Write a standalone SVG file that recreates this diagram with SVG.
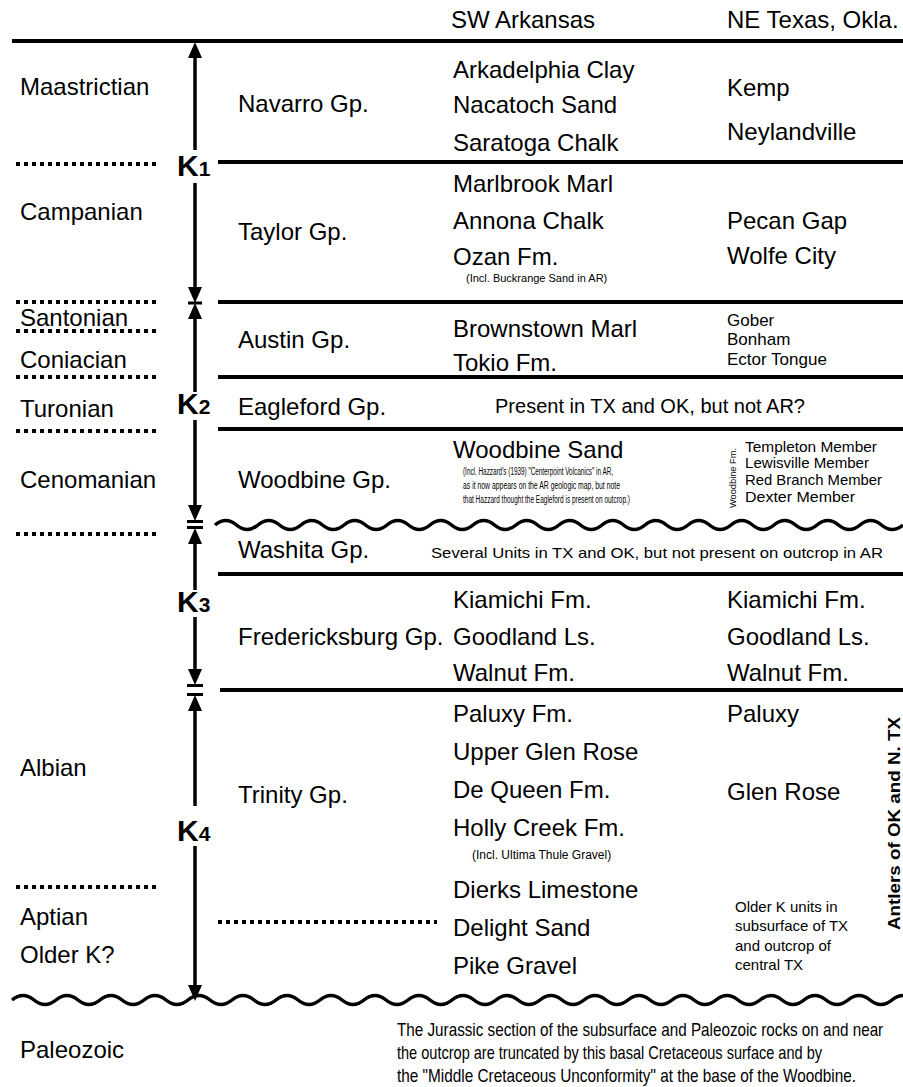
<svg xmlns="http://www.w3.org/2000/svg" width="903" height="1087" viewBox="0 0 903 1087">
<style>
text{font-family:"Liberation Sans",Arial,sans-serif;fill:#000}
.t{font-size:24px}
.m{font-size:17px}
.mem{font-size:15px}
.sm{font-size:11px}
.k{font-size:30px;font-weight:bold}
.ks{font-size:21px;font-weight:bold}
.ln{stroke:#000;stroke-width:4;fill:none}
.dot{stroke:#000;stroke-width:4;stroke-dasharray:4 4;fill:none}
.wave{stroke:#000;stroke-width:3.5;fill:none}
.ax{stroke:#000;stroke-width:3.5;fill:none}
.bar{stroke:#000;stroke-width:3}
.note{font-size:18px}
</style>
<defs>
<path id="up" d="M0,0 L-7,16 L7,16 Z" fill="#000"/>
<path id="dn" d="M0,0 L-7,-16 L7,-16 Z" fill="#000"/>
</defs>
<rect width="903" height="1087" fill="#fff"/>

<g id="headers">
<text class="t" x="451" y="28">SW Arkansas</text>
<text class="t" x="727" y="28">NE Texas, Okla.</text>
</g>

<g id="connectors">
<line class="ln" x1="12" y1="41" x2="903" y2="41"/>
<line class="ln" x1="218" y1="162" x2="903" y2="162"/>
<line class="ln" x1="218" y1="302" x2="903" y2="302"/>
<line class="ln" x1="218" y1="377" x2="903" y2="377"/>
<line class="ln" x1="218" y1="429" x2="903" y2="429"/>
<line class="ln" x1="218" y1="574" x2="903" y2="574"/>
<line class="ln" x1="220" y1="690" x2="903" y2="690"/>
<path class="wave" d="M215,525 q10.75,-9 21.5,0 t21.5,0 t21.5,0 t21.5,0 t21.5,0 t21.5,0 t21.5,0 t21.5,0 t21.5,0 t21.5,0 t21.5,0 t21.5,0 t21.5,0 t21.5,0 t21.5,0 t21.5,0 t21.5,0 t21.5,0 t21.5,0 t21.5,0 t21.5,0 t21.5,0 t21.5,0 t21.5,0 t21.5,0 t21.5,0 t21.5,0 t21.5,0 t21.5,0 t21.5,0 t21.5,0 t21.5,0"/>
<path class="wave" d="M12,1000 q11,-9 22,0 t22,0 t22,0 t22,0 t22,0 t22,0 t22,0 t22,0 t22,0 t22,0 t22,0 t22,0 t22,0 t22,0 t22,0 t22,0 t22,0 t22,0 t22,0 t22,0 t22,0 t22,0 t22,0 t22,0 t22,0 t22,0 t22,0 t22,0 t22,0 t22,0 t22,0 t22,0 t22,0 t22,0 t22,0 t22,0 t22,0 t22,0 t22,0 t22,0 t22,0"/>
<line class="dot" x1="16" y1="164" x2="160" y2="164"/>
<line class="dot" x1="16" y1="302" x2="160" y2="302"/>
<line class="dot" x1="16" y1="331" x2="160" y2="331"/>
<line class="dot" x1="16" y1="377" x2="160" y2="377"/>
<line class="dot" x1="16" y1="431" x2="160" y2="431"/>
<line class="dot" x1="16" y1="534" x2="160" y2="534"/>
<line class="dot" x1="16" y1="887" x2="160" y2="887"/>
<line class="dot" x1="218" y1="922" x2="437" y2="922"/>
<line class="ax" x1="195" y1="50" x2="195" y2="150"/>
<use href="#up" x="195" y="42"/>
<line class="ax" x1="195" y1="183" x2="195" y2="292"/>
<use href="#dn" x="195" y="303"/>
<line class="bar" x1="188" y1="303" x2="202" y2="303"/>
<use href="#up" x="195" y="303"/>
<line class="ax" x1="195" y1="315" x2="195" y2="392"/>
<line class="ax" x1="195" y1="420" x2="195" y2="512"/>
<use href="#dn" x="195" y="521"/>
<line class="bar" x1="187" y1="521.5" x2="203" y2="521.5"/>
<line class="bar" x1="187" y1="527.5" x2="203" y2="527.5"/>
<use href="#up" x="195" y="528"/>
<line class="ax" x1="195" y1="540" x2="195" y2="590"/>
<line class="ax" x1="195" y1="617" x2="195" y2="676"/>
<use href="#dn" x="195" y="685"/>
<line class="bar" x1="187" y1="685.5" x2="203" y2="685.5"/>
<line class="bar" x1="187" y1="694.5" x2="203" y2="694.5"/>
<use href="#up" x="195" y="695"/>
<line class="ax" x1="195" y1="708" x2="195" y2="806"/>
<line class="ax" x1="195" y1="846" x2="195" y2="990"/>
<use href="#dn" x="195" y="1001"/>
</g>

<g id="k-labels">
<text x="177" y="176"><tspan class="k">K</tspan><tspan class="ks">1</tspan></text>
<text x="177" y="414"><tspan class="k">K</tspan><tspan class="ks">2</tspan></text>
<text x="177" y="612"><tspan class="k">K</tspan><tspan class="ks">3</tspan></text>
<text x="177" y="841"><tspan class="k">K</tspan><tspan class="ks">4</tspan></text>
</g>

<g id="stages">
<text class="t" x="20" y="95">Maastrictian</text>
<text class="t" x="20" y="220">Campanian</text>
<text class="t" x="20" y="326">Santonian</text>
<text class="t" x="20" y="368">Coniacian</text>
<text class="t" x="20" y="417">Turonian</text>
<text class="t" x="20" y="488">Cenomanian</text>
<text class="t" x="20" y="776">Albian</text>
<text class="t" x="20" y="925">Aptian</text>
<text class="t" x="20" y="963">Older K?</text>
<text class="t" x="20" y="1058">Paleozoic</text>
</g>

<g id="navarro">
<text class="t" x="238" y="112">Navarro Gp.</text>
<text class="t" x="453" y="78">Arkadelphia Clay</text>
<text class="t" x="453" y="113">Nacatoch Sand</text>
<text class="t" x="453" y="151">Saratoga Chalk</text>
<text class="t" x="727" y="96">Kemp</text>
<text class="t" x="727" y="140">Neylandville</text>
</g>

<g id="taylor">
<text class="t" x="238" y="240">Taylor Gp.</text>
<text class="t" x="453" y="192">Marlbrook Marl</text>
<text class="t" x="453" y="229">Annona Chalk</text>
<text class="t" x="453" y="265">Ozan Fm.</text>
<text class="sm" x="466" y="282">(Incl. Buckrange Sand  in AR)</text>
<text class="t" x="727" y="229">Pecan Gap</text>
<text class="t" x="727" y="264">Wolfe City</text>
</g>

<g id="austin">
<text class="t" x="238" y="348">Austin Gp.</text>
<text class="t" x="453" y="337">Brownstown Marl</text>
<text class="t" x="453" y="371">Tokio Fm.</text>
<text class="m" x="727" y="326">Gober</text>
<text class="m" x="727" y="345">Bonham</text>
<text class="m" x="727" y="365">Ector Tongue</text>
</g>

<g id="eagleford">
<text class="t" x="238" y="415">Eagleford Gp.</text>
<text x="495" y="413" style="font-size:20px" textLength="310" lengthAdjust="spacingAndGlyphs">Present in TX and OK, but not AR?</text>
</g>

<g id="woodbine">
<text class="t" x="238" y="488">Woodbine Gp.</text>
<text class="t" x="453" y="458">Woodbine Sand</text>
<text x="463" y="475" style="font-size:10px" textLength="150" lengthAdjust="spacingAndGlyphs">(Incl. Hazzard's (1939) "Centerpoint Volcanics" in AR,</text>
<text x="463" y="489" style="font-size:10px" textLength="157" lengthAdjust="spacingAndGlyphs">as it now appears on the AR geologic map, but note</text>
<text x="463" y="503" style="font-size:10px" textLength="167" lengthAdjust="spacingAndGlyphs">that Hazzard thought the Eagleford is present on outcrop.)</text>
<text x="0" y="0" style="font-size:9px" transform="translate(736,508) rotate(-90)" textLength="60" lengthAdjust="spacingAndGlyphs">Woodbine Fm.</text>
<text class="mem" x="745" y="452" textLength="132" lengthAdjust="spacingAndGlyphs">Templeton Member</text>
<text class="mem" x="745" y="468" textLength="124" lengthAdjust="spacingAndGlyphs">Lewisville Member</text>
<text class="mem" x="745" y="485" textLength="137" lengthAdjust="spacingAndGlyphs">Red Branch Member</text>
<text class="mem" x="745" y="502" textLength="110" lengthAdjust="spacingAndGlyphs">Dexter Member</text>
</g>

<g id="washita">
<text class="t" x="238" y="558">Washita Gp.</text>
<text x="431" y="558" style="font-size:15px" textLength="452" lengthAdjust="spacingAndGlyphs">Several Units in TX and OK, but not present on outcrop in AR</text>
</g>

<g id="fredericksburg">
<text class="t" x="238" y="645">Fredericksburg Gp.</text>
<text class="t" x="453" y="608">Kiamichi Fm.</text>
<text class="t" x="453" y="645">Goodland Ls.</text>
<text class="t" x="453" y="681">Walnut Fm.</text>
<text class="t" x="727" y="608">Kiamichi Fm.</text>
<text class="t" x="727" y="645">Goodland Ls.</text>
<text class="t" x="727" y="681">Walnut Fm.</text>
</g>

<g id="trinity">
<text class="t" x="238" y="803">Trinity Gp.</text>
<text class="t" x="453" y="722">Paluxy Fm.</text>
<text class="t" x="453" y="760">Upper Glen Rose</text>
<text class="t" x="453" y="798">De Queen Fm.</text>
<text class="t" x="453" y="836">Holly Creek Fm.</text>
<text x="472" y="859" style="font-size:12px">(Incl. Ultima Thule Gravel)</text>
<text class="t" x="727" y="722">Paluxy</text>
<text class="t" x="727" y="800">Glen Rose</text>
</g>

<g id="older">
<text class="t" x="453" y="898">Dierks Limestone</text>
<text class="t" x="453" y="936">Delight Sand</text>
<text class="t" x="453" y="974">Pike Gravel</text>
<text x="735" y="912" style="font-size:15px">Older K units in</text>
<text x="735" y="931" style="font-size:15px">subsurface of TX</text>
<text x="735" y="951" style="font-size:15px">and outcrop of</text>
<text x="735" y="970" style="font-size:15px">central TX</text>
</g>

<g id="antlers">
<text x="0" y="0" transform="translate(900,930) rotate(-90)" style="font-size:17px;font-weight:bold" textLength="213" lengthAdjust="spacingAndGlyphs">Antlers of OK and N. TX</text>
</g>

<g id="note">
<text class="note" transform="translate(397,1036) scale(0.85,1)" x="0" y="0" textLength="572" lengthAdjust="spacingAndGlyphs">The Jurassic section of the subsurface and Paleozoic rocks on and near</text>
<text class="note" transform="translate(397,1059) scale(0.85,1)" x="0" y="0" textLength="500" lengthAdjust="spacingAndGlyphs">the outcrop are truncated by this basal Cretaceous surface and by</text>
<text class="note" transform="translate(397,1082) scale(0.85,1)" x="0" y="0" textLength="540" lengthAdjust="spacingAndGlyphs">the "Middle Cretaceous Unconformity" at the base of the Woodbine.</text>
</g>
</svg>
